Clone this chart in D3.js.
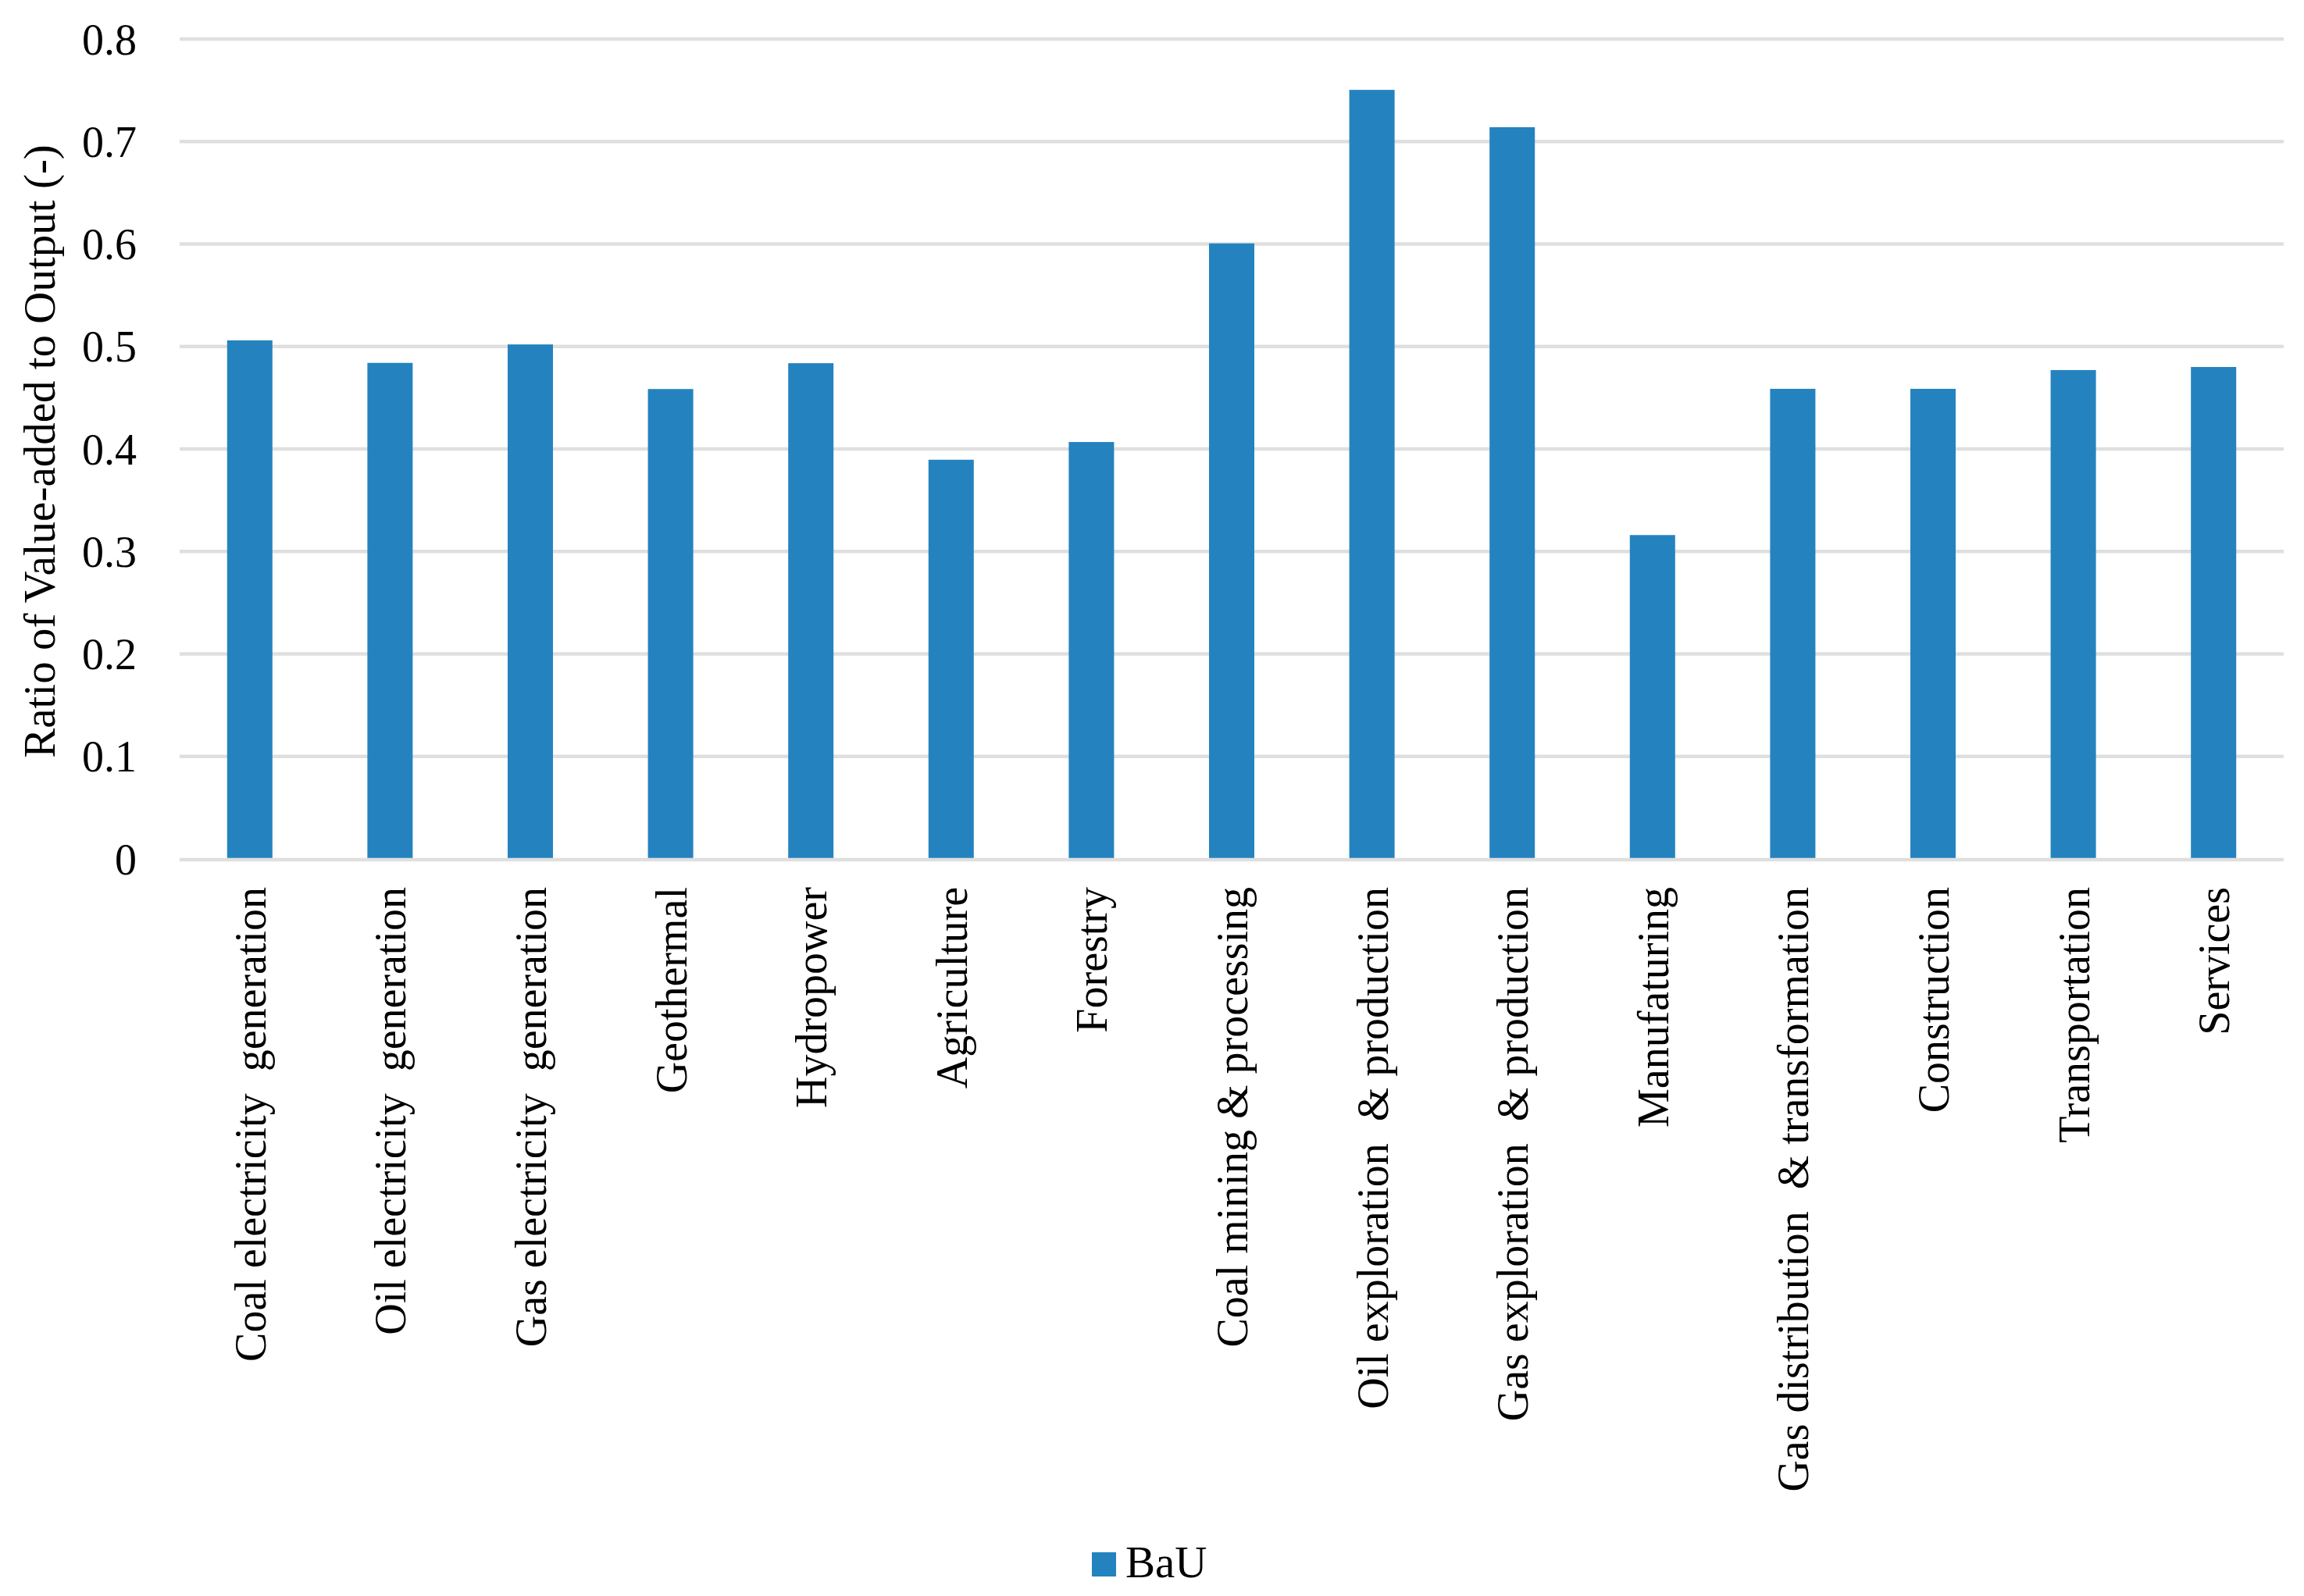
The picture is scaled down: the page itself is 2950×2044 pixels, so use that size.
<!DOCTYPE html>
<html><head><meta charset="utf-8">
<script src="https://cdn.jsdelivr.net/npm/d3@7"></script>
<style>
html,body{margin:0;padding:0;background:#fff;}
text{font-family:"Liberation Serif","Times New Roman",serif;fill:#000;white-space:pre;}
</style></head>
<body>
<svg id="chart" width="2950" height="2044"></svg>
<script>
const categories = [
  "Coal electricity  generation",
  "Oil electricity  generation",
  "Gas electricity  generation",
  "Geothermal",
  "Hydropower",
  "Agriculture",
  "Forestry",
  "Coal mining & processing",
  "Oil exploration  & production",
  "Gas exploration  & production",
  "Manufaturing",
  "Gas distribution  & transformation",
  "Construction",
  "Transportation",
  "Services"
];
const bauValues = [0.506, 0.484, 0.502, 0.4585, 0.4837, 0.3895, 0.4068, 0.6006, 0.7504, 0.714, 0.316, 0.4587, 0.4587, 0.477, 0.480];
const yTicks = [0, 0.1, 0.2, 0.3, 0.4, 0.5, 0.6, 0.7, 0.8];
const seriesName = "BaU";
const yTitle = "Ratio of Value-added to Output (-)";

const svg = d3.select("#chart");
const mLeft = 230, mRight = 2924, mTop = 50, mBottom = 1100;
const barColor = "#2483BF", gridColor = "#DFDFDF";

const x = d3.scaleBand().domain(categories).range([mLeft, mRight]).paddingInner(0.677).paddingOuter(0.3385);
const y = d3.scaleLinear().domain([0, 0.8]).range([mBottom, mTop]);

// gridlines
svg.append("g").selectAll("line").data(yTicks.filter(d => d > 0)).join("line")
  .attr("x1", mLeft).attr("x2", mRight)
  .attr("y1", d => y(d)).attr("y2", d => y(d))
  .attr("stroke", gridColor).attr("stroke-width", 4.5);

// bars
svg.append("g").selectAll("rect").data(bauValues).join("rect")
  .attr("x", (d, i) => x(categories[i]))
  .attr("width", x.bandwidth())
  .attr("y", d => y(d))
  .attr("height", d => y(0) - y(d))
  .attr("fill", barColor);

// zero line
svg.append("line").attr("x1", mLeft).attr("x2", mRight)
  .attr("y1", y(0) + 1).attr("y2", y(0) + 1)
  .attr("stroke", gridColor).attr("stroke-width", 4.5);

// y tick labels
svg.append("g").selectAll("text").data(yTicks).join("text")
  .attr("x", 175).attr("y", d => y(d))
  .attr("dy", "0.35em")
  .attr("text-anchor", "end")
  .attr("font-size", 56)
  .text(d => d === 0 ? "0" : d3.format(".1f")(d));

// y title
svg.append("text")
  .attr("transform", `translate(70,${(mTop + mBottom) / 2 + 3}) rotate(-90)`)
  .attr("text-anchor", "middle")
  .attr("font-size", 57)
  .text(yTitle);

// x labels
svg.append("g").selectAll("text").data(categories).join("text")
  .attr("transform", d => `translate(${x(d) + x.bandwidth() / 2 + 20},1136) rotate(-90)`)
  .attr("text-anchor", "end")
  .attr("font-size", 56)
  .text(d => d);

// legend
svg.append("rect").attr("x", 1398).attr("y", 1988).attr("width", 31).attr("height", 31).attr("fill", barColor);
svg.append("text").attr("x", 1441).attr("y", 2020).attr("font-size", 57).text(seriesName);
</script>
</body></html>
